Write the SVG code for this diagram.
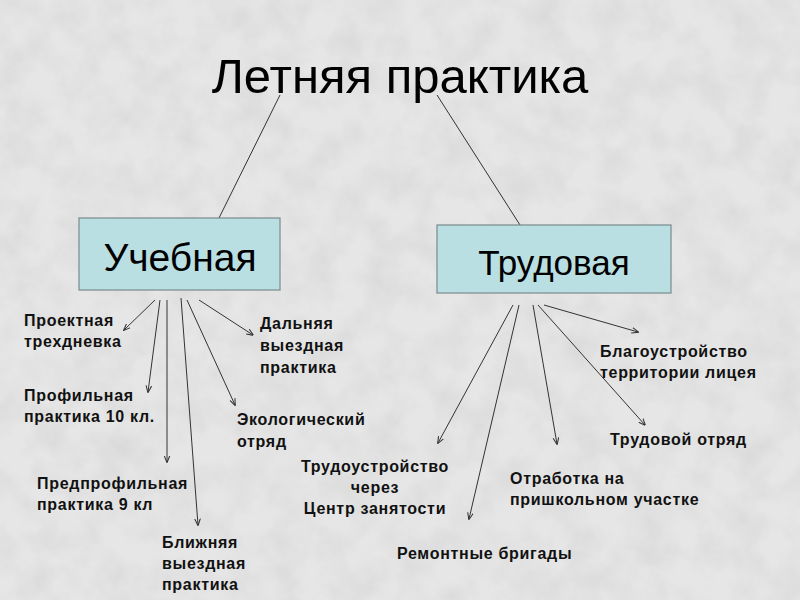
<svg xmlns="http://www.w3.org/2000/svg" width="800" height="600" viewBox="0 0 800 600">
<defs>
<filter id="tex" x="0" y="0" width="100%" height="100%">
<feTurbulence type="fractalNoise" baseFrequency="0.03" numOctaves="4" seed="7"/>
<feColorMatrix type="matrix" values="0 0 0 0 0.6  0 0 0 0 0.6  0 0 0 0 0.6  0.8 0 0 0 -0.28"/>
</filter>
<marker id="ah" viewBox="0 0 10 10" refX="9" refY="5" markerWidth="7" markerHeight="7" orient="auto" markerUnits="userSpaceOnUse">
<path d="M0,1 L10,5 L0,9" fill="none" stroke="#333" stroke-width="1.5"/>
</marker>
<style>
.box{fill:#b9dfe3;stroke:#7a8a8c;stroke-width:1.2}
.big{font-family:"Liberation Sans",Arial,sans-serif;fill:#000}
.lbl{font-family:"Liberation Sans",Arial,sans-serif;font-weight:bold;font-size:16px;letter-spacing:0.7px;fill:#111}
.ln{stroke:#333;stroke-width:1;fill:none}
.ar{stroke:#333;stroke-width:1;fill:none;marker-end:url(#ah)}
</style>
</defs>
<rect width="800" height="600" fill="#e6e6e6"/>
<rect width="800" height="600" filter="url(#tex)"/>

<g id="connectors">
<line class="ln" x1="280" y1="95" x2="219" y2="218"/>
<line class="ln" x1="437" y1="95" x2="520" y2="225"/>
<line class="ar" x1="155" y1="300" x2="124" y2="330"/>
<line class="ar" x1="160" y1="300" x2="148" y2="392"/>
<line class="ar" x1="167" y1="300" x2="167" y2="462"/>
<line class="ar" x1="181" y1="298" x2="198" y2="525"/>
<line class="ar" x1="187" y1="300" x2="235" y2="405"/>
<line class="ar" x1="199" y1="300" x2="253" y2="335"/>
<line class="ar" x1="513" y1="305" x2="438" y2="443"/>
<line class="ar" x1="519" y1="305" x2="469" y2="519"/>
<line class="ar" x1="533" y1="305" x2="557" y2="444"/>
<line class="ar" x1="538" y1="305" x2="645" y2="425"/>
<line class="ar" x1="544" y1="305" x2="638" y2="332"/>
</g>

<g id="title">
<text class="big" x="400" y="93" font-size="49" text-anchor="middle">Летняя практика</text>
</g>
<g id="uchebnaya">
<rect class="box" x="79" y="218" width="201" height="72"/>
<text class="big" x="180" y="271" font-size="39" text-anchor="middle">Учебная</text>
</g>
<g id="trudovaya">
<rect class="box" x="437" y="225" width="234" height="68"/>
<text class="big" x="554" y="275" font-size="35" text-anchor="middle">Трудовая</text>
</g>

<g id="proektnaya"><text class="lbl" x="24" y="326">Проектная</text><text class="lbl" x="24" y="347">трехдневка</text></g>
<g id="profilnaya"><text class="lbl" x="24" y="401">Профильная</text><text class="lbl" x="24" y="422">практика 10 кл.</text></g>
<g id="predprofilnaya"><text class="lbl" x="37" y="489">Предпрофильная</text><text class="lbl" x="37" y="510">практика 9 кл</text></g>
<g id="blizhnyaya"><text class="lbl" x="162" y="548">Ближняя</text><text class="lbl" x="162" y="569">выездная</text><text class="lbl" x="162" y="590">практика</text></g>
<g id="ekologicheskiy"><text class="lbl" x="237" y="425">Экологический</text><text class="lbl" x="237" y="447">отряд</text></g>
<g id="dalnyaya"><text class="lbl" x="260" y="329">Дальняя</text><text class="lbl" x="260" y="351">выездная</text><text class="lbl" x="260" y="373">практика</text></g>
<g id="trudoustroystvo"><text class="lbl" x="375" y="472" text-anchor="middle">Трудоустройство</text><text class="lbl" x="375" y="493" text-anchor="middle">через</text><text class="lbl" x="375" y="514" text-anchor="middle">Центр занятости</text></g>
<g id="remontnye"><text class="lbl" x="397" y="559">Ремонтные бригады</text></g>
<g id="otrabotka"><text class="lbl" x="510" y="484">Отработка на</text><text class="lbl" x="510" y="505">пришкольном участке</text></g>
<g id="blagoustroystvo"><text class="lbl" x="600" y="357">Благоустройство</text><text class="lbl" x="600" y="378">территории лицея</text></g>
<g id="trudovoy"><text class="lbl" x="610" y="445">Трудовой отряд</text></g>
</svg>
